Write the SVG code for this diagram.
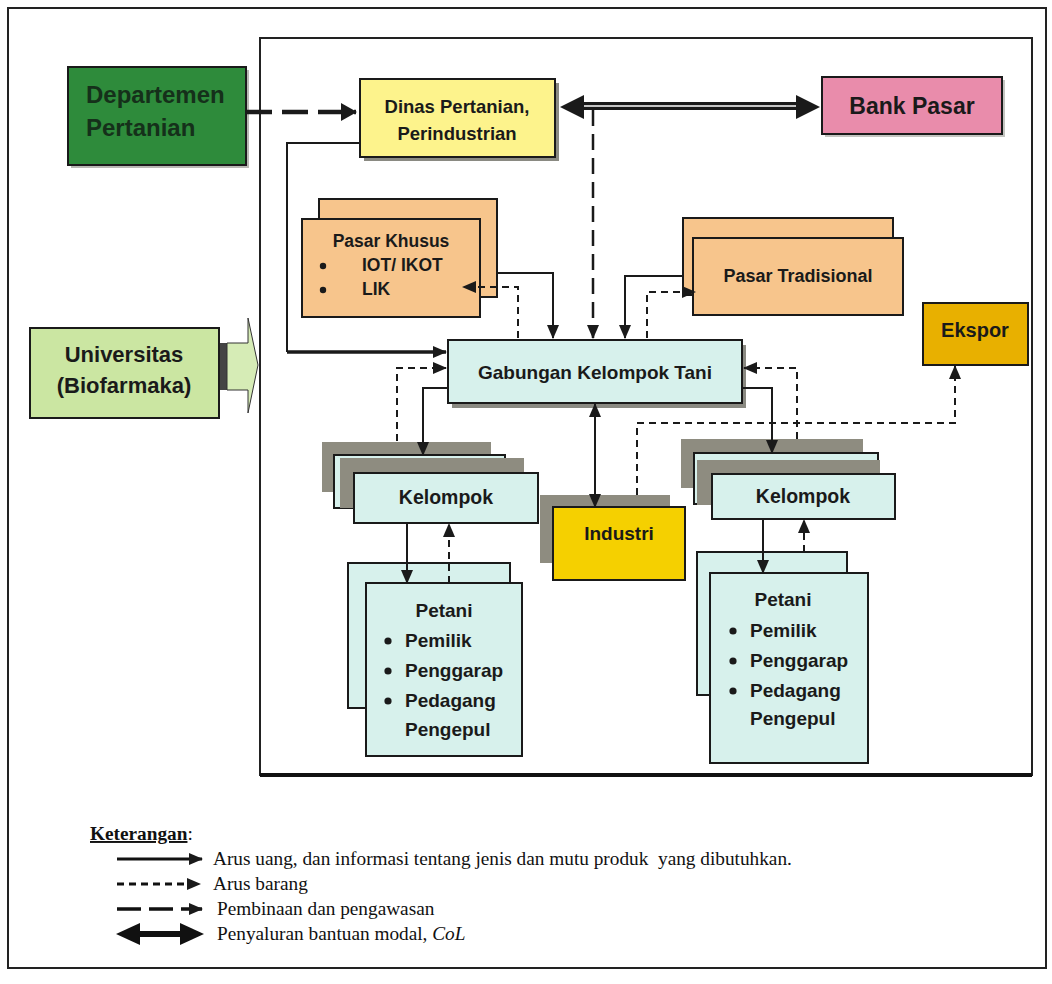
<svg xmlns="http://www.w3.org/2000/svg" width="1052" height="984" viewBox="0 0 1052 984">
<defs>
<style>
.t{font-family:"Liberation Sans",Arial,sans-serif;font-weight:bold;fill:#1a1a1a}
.bx{stroke:#1a1a1a;stroke-width:2}
.c{stroke:#1a1a1a;stroke-width:2;fill:none}
.d{stroke:#1a1a1a;stroke-width:2;fill:none;stroke-dasharray:7 5}
.ld{stroke:#1a1a1a;stroke-width:2.5;fill:none;stroke-dasharray:16 8}
.cy{fill:#d7f1ec}
.or{fill:#f7c58c}
.gr{fill:#8e8c80}
.sh{fill:#8a8a82}
.leg{font-family:"Liberation Serif","Times New Roman",serif;font-size:19.3px;fill:#111}
</style>
<marker id="ah" markerUnits="userSpaceOnUse" markerWidth="14" markerHeight="12" refX="13" refY="6" orient="auto-start-reverse"><path d="M0,0 L14,6 L0,12 z" fill="#1a1a1a"/></marker>
<marker id="ahb" markerUnits="userSpaceOnUse" markerWidth="16" markerHeight="18" refX="15" refY="9" orient="auto"><path d="M0,0 L16,9 L0,18 z" fill="#1a1a1a"/></marker>
</defs>
<rect width="1052" height="984" fill="#fff"/>
<rect x="8" y="8" width="1038" height="960" fill="none" stroke="#222" stroke-width="2"/>
<rect x="260" y="38" width="772" height="737" fill="none" stroke="#222" stroke-width="2"/>
<line x1="260" y1="775" x2="1032" y2="775" stroke="#111" stroke-width="4"/>

<g id="departemen">
<rect x="71" y="70" width="178" height="98" class="sh" opacity="0.6"/>
<rect x="68" y="67" width="178" height="98" fill="#2e8b3b" class="bx"/>
<text class="t" x="86" y="103" font-size="24" style="fill:#15301a">Departemen</text>
<text class="t" x="86" y="136" font-size="24" style="fill:#15301a">Pertanian</text>
</g>

<g id="dinas">
<rect x="364" y="83" width="195" height="78" class="sh"/>
<rect x="360" y="79" width="195" height="78" fill="#fdf38c" class="bx"/>
<text class="t" x="457" y="113" font-size="18.5" text-anchor="middle">Dinas Pertanian,</text>
<text class="t" x="457" y="140" font-size="18.5" text-anchor="middle">Perindustrian</text>
</g>

<g id="bank-pasar">
<rect x="825" y="80" width="180" height="57" class="sh" opacity="0.5"/>
<rect x="822" y="77" width="180" height="57" fill="#e98cab" class="bx"/>
<text class="t" x="912" y="114" font-size="23" text-anchor="middle">Bank Pasar</text>
</g>

<g id="pasar-khusus">
<rect x="319" y="199" width="178" height="98" class="or bx"/>
<rect x="302" y="219" width="178" height="98" class="or bx"/>
<text class="t" x="391" y="247" font-size="17.5" text-anchor="middle">Pasar Khusus</text>
<circle cx="323" cy="266" r="3.2" fill="#1a1a1a"/>
<circle cx="323" cy="290" r="3.2" fill="#1a1a1a"/>
<text class="t" x="362" y="271" font-size="17.5">IOT/ IKOT</text>
<text class="t" x="362" y="295" font-size="17.5">LIK</text>
</g>

<g id="pasar-tradisional">
<rect x="683" y="218" width="210" height="77" class="or bx"/>
<rect x="693" y="238" width="210" height="77" class="or bx"/>
<text class="t" x="798" y="282" font-size="18" text-anchor="middle">Pasar Tradisional</text>
</g>

<g id="ekspor">
<rect x="923" y="303" width="105" height="62" fill="#e8b000" class="bx"/>
<text class="t" x="975" y="337" font-size="20" text-anchor="middle">Ekspor</text>
</g>

<g id="universitas">
<rect x="30" y="328" width="189" height="90" fill="#cbe6a2" class="bx"/>
<text class="t" x="124" y="362" font-size="22" text-anchor="middle">Universitas</text>
<text class="t" x="124" y="393" font-size="22" text-anchor="middle">(Biofarmaka)</text>
<rect x="220" y="343" width="7" height="47" fill="#444"/>
<polygon points="227,343 248,343 248,318 258,365 248,413 248,390 227,390" fill="#d6ecb6" stroke="#333" stroke-width="1"/>
</g>

<g id="gabungan">
<rect x="452" y="345" width="294" height="63" class="sh"/>
<rect x="448" y="340" width="294" height="63" class="cy bx"/>
<text class="t" x="595" y="379" font-size="19" text-anchor="middle">Gabungan Kelompok Tani</text>
</g>

<g id="kelompok-kiri">
<rect x="322" y="442" width="169" height="50" class="gr"/>
<rect x="334" y="455" width="171" height="53" class="cy bx"/>
<rect x="340" y="458" width="184" height="50" class="gr"/>
<rect x="354" y="473" width="184" height="50" class="cy bx"/>
<text class="t" x="446" y="504" font-size="19.5" text-anchor="middle">Kelompok</text>
</g>

<g id="kelompok-kanan">
<rect x="681" y="439" width="182" height="49" class="gr"/>
<rect x="694" y="453" width="184" height="51" class="cy bx"/>
<rect x="697" y="460" width="183" height="45" class="gr"/>
<rect x="712" y="474" width="183" height="45" class="cy bx"/>
<text class="t" x="803" y="503" font-size="19.5" text-anchor="middle">Kelompok</text>
</g>

<g id="industri">
<rect x="540" y="495" width="130" height="68" class="gr"/>
<rect x="553" y="507" width="132" height="73" fill="#f5d000" class="bx"/>
<text class="t" x="619" y="540" font-size="19" text-anchor="middle">Industri</text>
</g>

<g id="petani-kiri">
<rect x="348" y="563" width="162" height="145" class="cy bx"/>
<rect x="366" y="583" width="156" height="173" class="cy bx"/>
<text class="t" x="444" y="617" font-size="19" text-anchor="middle">Petani</text>
<circle cx="388" cy="641" r="3.6" fill="#1a1a1a"/>
<circle cx="388" cy="671" r="3.6" fill="#1a1a1a"/>
<circle cx="388" cy="701" r="3.6" fill="#1a1a1a"/>
<text class="t" x="405" y="647" font-size="19">Pemilik</text>
<text class="t" x="405" y="677" font-size="19">Penggarap</text>
<text class="t" x="405" y="707" font-size="19">Pedagang</text>
<text class="t" x="405" y="736" font-size="19">Pengepul</text>
</g>

<g id="petani-kanan">
<rect x="697" y="552" width="150" height="143" class="cy bx"/>
<rect x="710" y="573" width="158" height="190" class="cy bx"/>
<text class="t" x="783" y="606" font-size="19" text-anchor="middle">Petani</text>
<circle cx="733" cy="631" r="3.6" fill="#1a1a1a"/>
<circle cx="733" cy="661" r="3.6" fill="#1a1a1a"/>
<circle cx="733" cy="691" r="3.6" fill="#1a1a1a"/>
<text class="t" x="750" y="637" font-size="19">Pemilik</text>
<text class="t" x="750" y="667" font-size="19">Penggarap</text>
<text class="t" x="750" y="697" font-size="19">Pedagang</text>
<text class="t" x="750" y="725" font-size="19">Pengepul</text>
</g>

<g id="connectors">
<line x1="246" y1="112" x2="356" y2="112" stroke="#1a1a1a" stroke-width="4.5" stroke-dasharray="26 10" marker-end="url(#ahb)"/>
<g id="double-arrow">
<rect x="582" y="102" width="216" height="8" fill="#1a1a1a"/>
<line x1="582" y1="106" x2="798" y2="106" stroke="#fff" stroke-width="1.3"/>
<polygon points="560,107 584,95 584,119" fill="#1a1a1a"/>
<polygon points="820,107 796,95 796,119" fill="#1a1a1a"/>
</g>
<line x1="593" y1="110" x2="593" y2="338" class="ld" marker-end="url(#ah)"/>
<polyline points="360,143 287,143 287,352" class="c"/>
<line x1="287" y1="352" x2="446" y2="352" stroke="#1a1a1a" stroke-width="3.5" marker-end="url(#ah)"/>
<polyline points="497,273 553,273 553,338" class="c" marker-end="url(#ah)"/>
<polyline points="518,338 518,287 463,287" class="d" marker-end="url(#ah)"/>
<polyline points="683,276 625,276 625,338" class="c" marker-end="url(#ah)"/>
<polyline points="647,338 647,292 695,292" class="d" marker-end="url(#ah)"/>
<polyline points="448,388 423,388 423,455" class="c" marker-end="url(#ah)"/>
<polyline points="397,441 397,368 446,368" class="d" marker-end="url(#ah)"/>
<polyline points="742,388 772,388 772,453" class="c" marker-end="url(#ah)"/>
<polyline points="797,439 797,368 744,368" class="d" marker-end="url(#ah)"/>
<polyline points="637,495 637,423 955,423 955,366" class="d" marker-end="url(#ah)"/>
<line x1="595" y1="404" x2="595" y2="507" class="c" marker-start="url(#ah)" marker-end="url(#ah)"/>
<line x1="407" y1="523" x2="407" y2="583" class="c" marker-end="url(#ah)"/>
<line x1="449" y1="583" x2="449" y2="524" class="d" marker-end="url(#ah)"/>
<line x1="763" y1="519" x2="763" y2="573" class="c" marker-end="url(#ah)"/>
<line x1="804" y1="552" x2="804" y2="520" class="d" marker-end="url(#ah)"/>
</g>

<g id="legend">
<text class="leg" x="90" y="840"><tspan font-weight="bold" text-decoration="underline">Keterangan</tspan>:</text>
<line x1="117" y1="859" x2="202" y2="859" stroke="#111" stroke-width="3" marker-end="url(#ah)"/>
<line x1="117" y1="884" x2="200" y2="884" stroke="#111" stroke-width="3" stroke-dasharray="7 5" marker-end="url(#ah)"/>
<line x1="117" y1="909" x2="202" y2="909" stroke="#111" stroke-width="3.5" stroke-dasharray="24 8" marker-end="url(#ah)"/>
<rect x="136" y="931" width="48" height="6" fill="#111"/>
<polygon points="116,934 140,923 140,945" fill="#111"/>
<polygon points="204,934 180,923 180,945" fill="#111"/>
<text class="leg" x="213" y="865" style="white-space:pre">Arus uang, dan informasi tentang jenis dan mutu produk  yang dibutuhkan.</text>
<text class="leg" x="213" y="890">Arus barang</text>
<text class="leg" x="217" y="915">Pembinaan dan pengawasan</text>
<text class="leg" x="217" y="940">Penyaluran bantuan modal, <tspan font-style="italic">CoL</tspan></text>
</g>
</svg>
